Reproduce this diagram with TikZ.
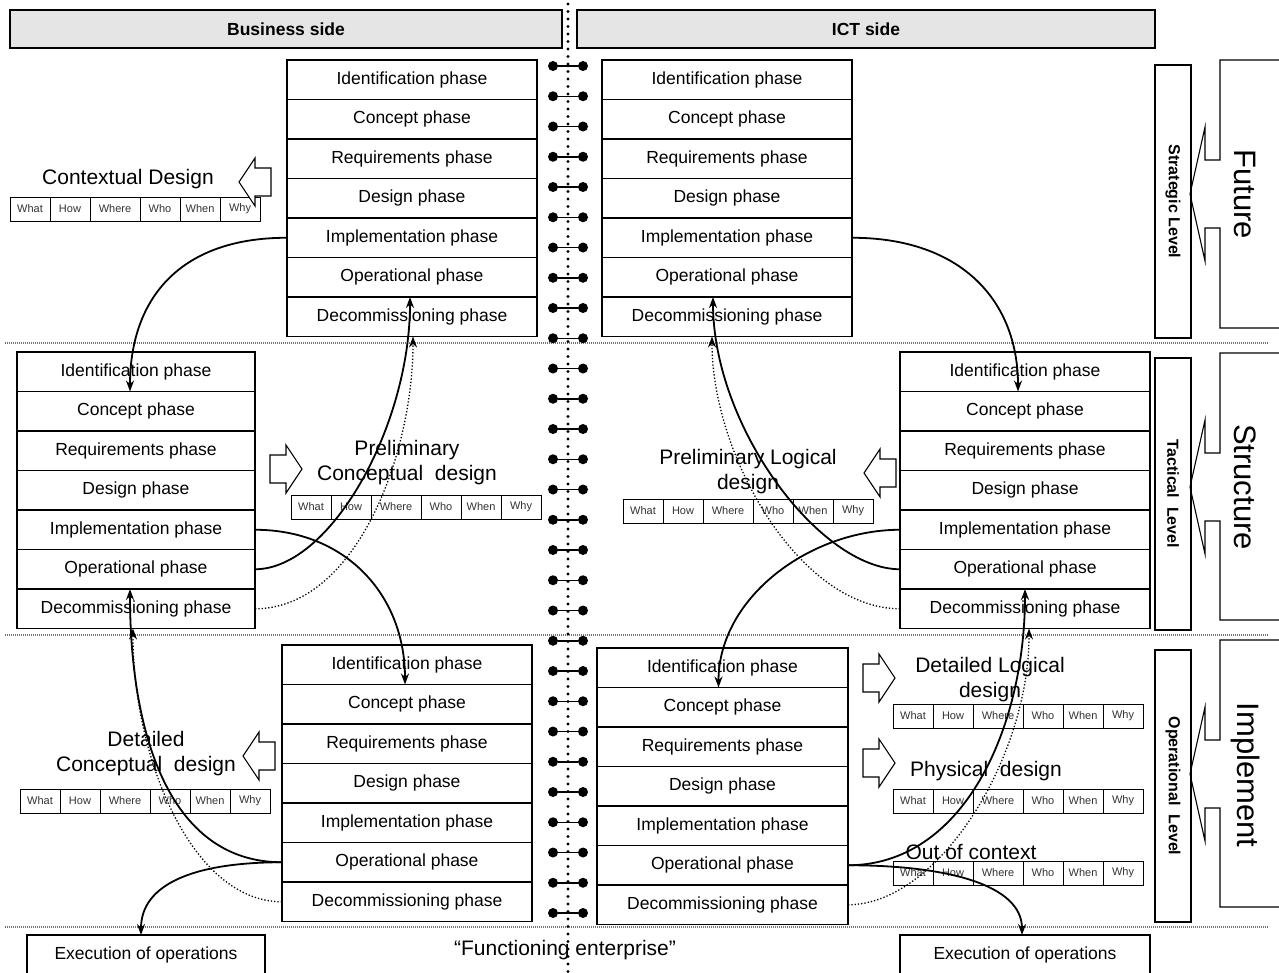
\documentclass[tikz,border=0pt]{standalone}
\usepackage{fontspec}
\setmainfont{Liberation Sans}
\usetikzlibrary{arrows.meta,calc}
\tikzset{
 phasebox/.style={draw, line width=1.1pt, minimum height=39.5pt, inner sep=0pt, outer sep=0pt, font=\fontsize{17.5}{20}\selectfont},
 zcell/.style={draw, line width=1pt, minimum height=24pt, inner sep=0pt, outer sep=0pt, font=\fontsize{11}{13}\selectfont, text=black!80},
 blk/.style={draw, line width=1.1pt, fill=white, line join=miter},
 hdr/.style={draw, line width=1.1pt, fill=black!10, font=\bfseries\fontsize{17.5}{21}\selectfont, inner sep=0pt, outer sep=0pt},
 lvl/.style={draw, line width=1.1pt, inner sep=0pt, outer sep=0pt, font=\bfseries\fontsize{16}{19}\selectfont},
 bigtxt/.style={inner sep=0pt, font=\fontsize{31}{36}\selectfont},
 flow/.style={line width=1.8pt, -{Stealth[length=11pt,width=8pt]}},
 dflow/.style={line width=1.3pt, dotted, -{Stealth[length=11pt,width=8pt]}},
 ttl/.style={font=\fontsize{21}{25}\selectfont, align=center, inner sep=0pt},
 sepline/.style={draw=black!55, line width=1.6pt, dash pattern=on 1pt off 1pt},
 dumb/.style={circle, fill, inner sep=0pt, minimum size=10pt},
 exbox/.style={draw, line width=1.1pt, minimum height=40pt, inner sep=0pt, outer sep=0pt, anchor=north west, font=\fontsize{17.5}{20}\selectfont},
}
\newcommand{\phstack}[4]{%
 \foreach \ph [count=\i] in {Identification phase,Concept phase,Requirements phase,Design phase,Implementation phase,Operational phase,Decommissioning phase}{%
  \node[phasebox, minimum width=#4pt, anchor=north west] (#1\i) at (#2,{#3+(\i-1)*39.5}) {\ph};}}
\newcommand{\zach}[3]{%
 \node[zcell, minimum width=40pt, anchor=north west] (#1-1) at (#2,#3) {What};
 \node[zcell, minimum width=40pt, anchor=west] (#1-2) at (#1-1.east) {How};
 \node[zcell, minimum width=50pt, anchor=west] (#1-3) at (#1-2.east) {Where};
 \node[zcell, minimum width=40pt, anchor=west] (#1-4) at (#1-3.east) {Who};
 \node[zcell, minimum width=40pt, anchor=west] (#1-5) at (#1-4.east) {When};
 \node[zcell, minimum width=40pt, anchor=west] (#1-6) at (#1-5.east) {Why};}
\newcommand{\lblock}[2]{\draw[blk] (#1,#2) -- ({#1+16},{#2-24}) -- ({#1+16},{#2-14}) -- ({#1+32},{#2-14}) -- ({#1+32},{#2+14}) -- ({#1+16},{#2+14}) -- ({#1+16},{#2+24}) -- cycle;}
\newcommand{\rblock}[2]{\draw[blk] (#1,#2) -- ({#1-16},{#2-24}) -- ({#1-16},{#2-14}) -- ({#1-32},{#2-14}) -- ({#1-32},{#2+14}) -- ({#1-16},{#2+14}) -- ({#1-16},{#2+24}) -- cycle;}
\newcommand{\bigbox}[3]{\draw[line width=1.1pt, line join=miter] (1300,#1) -- (1220,#1) -- (1220,{#3-34}) -- (1205,{#3-34}) -- (1205,{#3-67}) -- (1190,#3) -- (1205,{#3+67}) -- (1205,{#3+34}) -- (1220,{#3+34}) -- (1220,#2) -- (1300,#2);}
\begin{document}
\begin{tikzpicture}[x=1pt,y=-1pt]
\useasboundingbox (0,0) rectangle (1279,972);
\clip (0,0) rectangle (1279,972);
\fill[white] (0,0) rectangle (1279,972);
% separators
\foreach \yy in {343,635,927} \draw[sepline] (5,\yy) -- (1268,\yy);
% central dotted line and dumbbells
\draw[line width=3.2pt, line cap=round, dash pattern=on 0pt off 7.5pt] (568,4) -- (568,972);
\foreach \i in {1,...,29} {
  \node[dumb] (dl\i) at (553,{66+(\i-1)*30.25}) {};
  \node[dumb] (dr\i) at (583,{66+(\i-1)*30.25}) {};
  \draw[line width=1.5pt] (dl\i) -- (dr\i);
}
% headers
\node[hdr, minimum width=552pt, minimum height=38pt, anchor=north west] (bus) at (10,10) {Business side};
\node[hdr, minimum width=578pt, minimum height=38pt, anchor=north west] (ict) at (577,10) {ICT side};
% phase stacks
\phstack{TL}{287}{60}{250}
\phstack{TR}{602}{60}{250}
\phstack{ML}{17}{352}{238}
\phstack{MR}{900}{352}{250}
\phstack{BL}{282}{645}{250}
\phstack{BR}{597}{648}{251}
% Zachman rows
\zach{ZC}{10}{197}
\zach{ZPC}{291}{495}
\zach{ZPL}{623}{499}
\zach{ZDC}{20}{789}
\zach{ZDL}{893}{704}
\zach{ZPH}{893}{789}
\zach{ZOC}{893}{861}
% block arrows
\lblock{239}{182}
\rblock{302}{469}
\lblock{864}{473}
\lblock{243}{756}
\rblock{895}{678}
\rblock{895}{763}
% titles
\node[ttl] (tC) at (128,179) {Contextual Design};
\node[ttl] (tPC) at (407,463) {Preliminary\\Conceptual\ \ design};
\node[ttl] (tPL) at (748,472) {Preliminary Logical\\design};
\node[ttl] (tDC) at (146,754) {Detailed\\Conceptual\ \ design};
\node[ttl] (tDL) at (990,680) {Detailed Logical\\design};
\node[ttl] (tPH) at (986,771) {Physical\ \ design};
\node[ttl] (tOC) at (971,852) {Out of context};
% right side
\bigbox{60}{328}{194}
\bigbox{353}{620}{487}
\bigbox{640}{907}{774}
\node[bigtxt, rotate=-90] (fut) at (1245,194) {Future};
\node[bigtxt, rotate=-90] (str) at (1245,487) {Structure};
\node[bigtxt, rotate=-90] (imp) at (1245,775) {Implement};
\node[lvl, rotate=-90, minimum width=273pt, minimum height=36pt] (strat) at (1173,201.5) {Strategic Level};
\node[lvl, rotate=-90, minimum width=272pt, minimum height=36pt] (tact) at (1173,494) {Tactical\ \ Level};
\node[lvl, rotate=-90, minimum width=272pt, minimum height=36pt] (oper) at (1173,786) {Operational\ \ Level};
% execution boxes
\node[exbox, minimum width=238pt] (EXL) at (27,935) {Execution of operations};
\node[exbox, minimum width=250pt] (EXR) at (900,935) {Execution of operations};
\node[font=\fontsize{21}{25}\selectfont, inner sep=0pt] (fe) at (565,950) {“Functioning enterprise”};
% flows, business side
\draw[flow] (TL5.west) .. controls +(-110,0) and +(0,-90) .. ($(ML1.south)+(-6,0)$);
\draw[flow] (ML6.east) .. controls +(75,0) and +(0,130) .. ($(TL7.north)+(-2,0)$);
\draw[dflow] (ML7.east) .. controls +(100,0) and +(0,120) .. ($(TL7.south)+(1,0)$);
\draw[flow] (ML5.east) .. controls +(90,0) and +(0,-90) .. ($(BL1.south)+(-2,0)$);
\draw[flow] (BL6.west) .. controls +(-115,0) and +(0,140) .. ($(ML7.north)+(-6,0)$);
\draw[dflow] (BL7.west) .. controls +(-90,0) and +(0,130) .. ($(ML7.south)+(-3,0)$);
\draw[flow] (BL6.west) .. controls +(-90,0) and +(0,-50) .. ($(EXL.north)+(-5,0)$);
% flows, ICT side
\draw[flow] (TR5.east) .. controls +(110,0) and +(0,-90) .. ($(MR1.south)+(-7,0)$);
\draw[flow] (MR6.west) .. controls +(-80,0) and +(0,130) .. ($(TR7.north)+(-14,0)$);
\draw[dflow] (MR7.west) .. controls +(-100,0) and +(0,120) .. ($(TR7.south)+(-15,0)$);
\draw[flow] (MR5.west) .. controls +(-90,0) and +(0,-90) .. ($(BR1.south)+(-4,0)$);
\draw[flow] (BR6.east) .. controls +(115,0) and +(0,140) .. (MR7.north);
\draw[dflow] (BR7.east) .. controls +(90,0) and +(0,130) .. ($(MR7.south)+(4,0)$);
\draw[flow] (BR6.east) .. controls +(100,0) and +(0,-50) .. ($(EXR.north)+(-3,0)$);
\end{tikzpicture}
\end{document}
